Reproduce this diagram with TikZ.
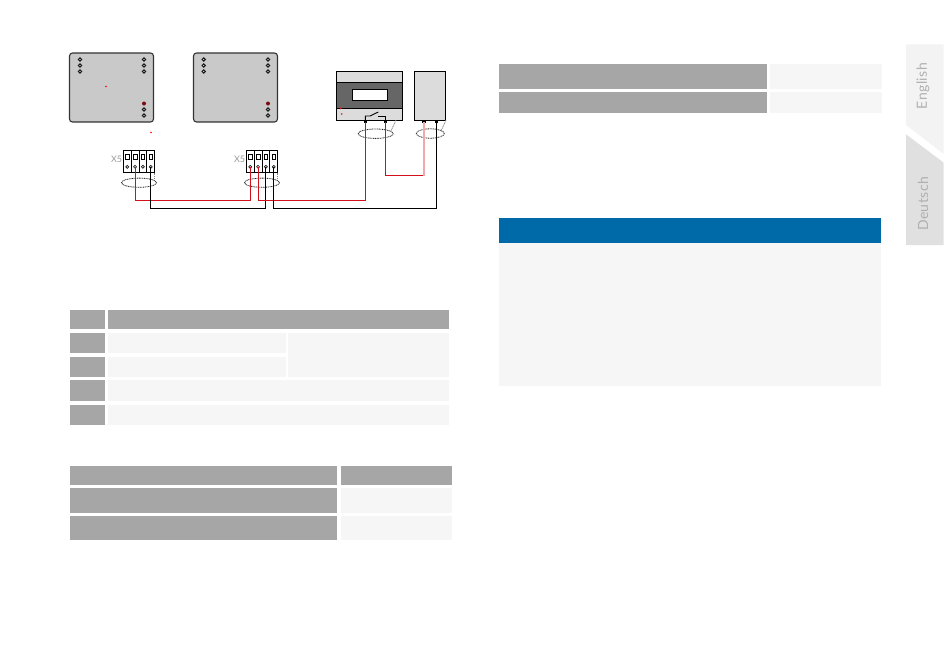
\documentclass[tikz,border=0pt]{standalone}
\usepackage{fontspec}
\setsansfont{Lato}
\usetikzlibrary{positioning,calc}
\definecolor{cellgray}{HTML}{A6A6A6}
\definecolor{celllight}{HTML}{F6F6F6}
\definecolor{panelgray}{HTML}{C9C9C9}
\definecolor{bandgray}{HTML}{666666}
\definecolor{boxgray}{HTML}{DCDCDC}
\definecolor{noteblue}{HTML}{0069A8}
\definecolor{wirered}{HTML}{D2101C}
\definecolor{wirepink}{HTML}{F0A8A8}
\definecolor{tabone}{HTML}{F3F3F3}
\definecolor{tabtwo}{HTML}{E0E0E0}
\definecolor{tabtext}{HTML}{B0B0B0}
\tikzset{
  panel/.style={draw=black!80, line width=1.1pt, fill=panelgray, rounded corners=3pt},
  pin/.style={draw=black!90, fill=white, line width=1pt},
  lug/.style={fill=black},
  redwire/.style={draw=wirered, line width=1pt},
  blackwire/.style={draw=black, line width=1pt},
  bundle/.style={draw=black!85, dash pattern=on 1pt off .7pt, line width=.8pt},
  tail/.style={draw=black!50, dash pattern=on 1pt off .7pt, line width=.8pt},
  tablabel/.style={rotate=90, text=tabtext, font=\fontsize{14}{14}\selectfont\sffamily\addfontfeature{LetterSpace=3}},
}
\newcommand{\graycell}[4]{\fill[cellgray] (#1,#2) rectangle (#3,#4);}
\newcommand{\lightcell}[4]{\fill[celllight] (#1,#2) rectangle (#3,#4);}
\begin{document}
\begin{tikzpicture}[x=1pt,y=-1pt]
\useasboundingbox (0,0) rectangle (950,670);
% camera panels
\foreach \px/\lx/\rx in {69.5/80/144, 193.5/203.7/268}{
  \draw[panel] (\px,53) rectangle ++(84,69);
  \foreach \py in {59.5,65.5,71.5}{
    \draw[pin] (\lx,\py) circle (1.6);
    \draw[pin] (\rx,\py) circle (1.6);
  }
  \foreach \py in {109.5,115.5}
    \draw[pin] (\rx,\py) circle (1.6);
  \fill[wirered!60!black] (\rx,103.5) circle (2);
}
\fill[red] (106,86.5) circle (.8);
\fill[red] (151,132.5) circle (.8);
% X5 connectors
\foreach \bx/\name in {123.3/a, 246.3/b}{
  \node[text=black!40, font=\fontsize{9}{10}\selectfont\sffamily, anchor=east, inner sep=1pt] (x5\name) at (\bx,159.5) {X5};
  \foreach \i in {0,1,2,3}{
    \draw[black, line width=1pt, fill=white] ({\bx+\i*7.85},150.3) rectangle ++(7.85,22.4);
    \draw[black, line width=.9pt] ({\bx+\i*7.85+2.2},154.5) rectangle ++(3.6,5);
    \draw[pin, line width=.7pt] ({\bx+\i*7.85+3.9},166.8) circle (1.5);
    \coordinate (t\name\i) at ({\bx+\i*7.85+3.9},166.8);
  }
  \draw[bundle] ({\bx+15.7},182.7) ellipse (17.5 and 4.6);
  \draw[tail] ({\bx+31.4},172.7) -- ++(0,6.5);
}
% siren and power supply
\draw[black, line width=1pt, fill=boxgray] (336.3,71.7) rectangle (402.3,120.3);
\draw[black, line width=1pt, fill=bandgray] (336.3,82.7) rectangle (402.3,108.3);
\draw[black, line width=1pt, fill=white] (352.3,89.3) rectangle (387.7,100.3);
\draw[black, line width=1pt, fill=boxgray] (414.3,71.7) rectangle (445.7,120.3);
\fill[red] (340.7,108.3) circle (.8);
\fill[red] (341.7,114) circle (.8);
\coordinate (sa) at (365.3,121.5);
\coordinate (sb) at (385.7,121.5);
\coordinate (pa) at (424,121.5);
\coordinate (pb) at (436.6,121.5);
\foreach \lg in {sa,sb,pa,pb}
  \fill[lug] ($(\lg)+(-1.7,-1.7)$) rectangle ($(\lg)+(1.7,1.7)$);
\draw[black, line width=.9pt] (sa) -- (365.3,116) -- (370,116) -- (378.3,112);
\draw[black, line width=.9pt] (sb) -- (385.7,116) -- (377.5,116);
\draw[bundle] (375.7,133.7) ellipse (17.5 and 4.7);
\draw[bundle] (430.3,133.5) ellipse (14 and 4.7);
\draw[tail] (396,120) -- (390.7,131.7);
\draw[tail] (446,120) -- (441,131);
% wires
\draw[redwire] (ta1) -- ++(0,33.4) -| (tb0);
\draw[blackwire] (ta3) -- ++(0,41.2) -| (tb2);
\draw[redwire] (tb1) -- ++(0,33.4) -| (sa);
\draw[blackwire] (tb3) -- ++(0,41.2) -| (pb);
\draw[redwire] (sb) |- (424,175.7);
\draw[draw=wirepink, line width=1.6pt] (424,176.2) -- (pa);
% table one
\graycell{69.5}{310}{105}{329}
\graycell{108}{310}{449}{329}
\foreach \ya/\yb in {332.5/353, 356.5/377, 380/401, 404.5/425}
  \graycell{69.5}{\ya}{105}{\yb}
\lightcell{108}{332.5}{285.5}{353}
\lightcell{108}{356.5}{285.5}{377}
\lightcell{288}{332.5}{449}{377}
\lightcell{108}{380}{449}{401}
\lightcell{108}{404.5}{449}{425}
% table two
\graycell{69.5}{465.5}{337}{485}
\graycell{340.5}{465.5}{452}{485}
\graycell{69.5}{488}{337}{513}
\lightcell{340.5}{488}{452}{513}
\graycell{69.5}{516}{337}{540}
\lightcell{340.5}{516}{452}{540}
% right column
\graycell{499}{64}{767}{89}
\lightcell{770}{64}{882}{89}
\graycell{499}{92}{767}{113}
\lightcell{770}{92}{882}{113}
\fill[noteblue] (499,218.3) rectangle (881,243.3);
\lightcell{499}{243.3}{881}{385.7}
% language tabs
\fill[tabone] (906,44.3) -- (943.7,44.3) -- (943.7,154) -- (906,125) -- cycle;
\fill[tabtwo] (906,134.3) -- (943.7,162.7) -- (943.7,245) -- (906,245) -- cycle;
\node[tablabel] (english) at (923,86) {English};
\node[tablabel] (deutsch) at (923,204) {Deutsch};
\end{tikzpicture}
\end{document}
